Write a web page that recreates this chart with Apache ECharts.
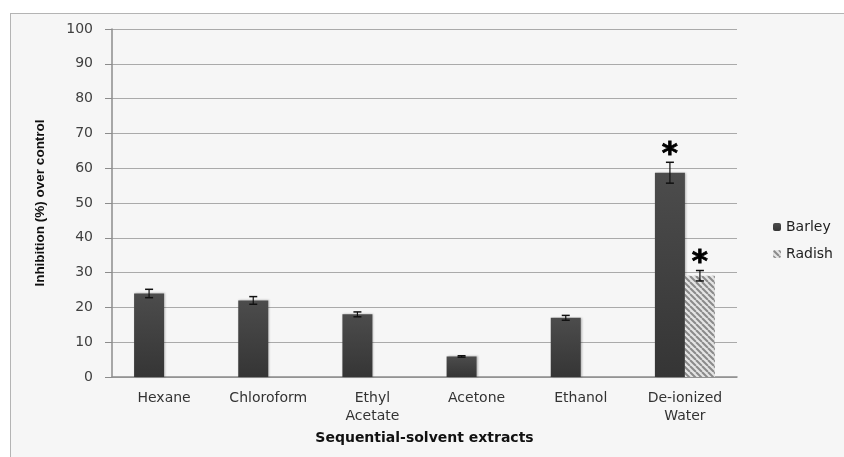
<!DOCTYPE html>
<html>
<head>
<meta charset="utf-8">
<script src="https://cdn.jsdelivr.net/npm/echarts@6/dist/echarts.min.js"></script>
<style>
  html, body { margin: 0; padding: 0; background: #fff; }
  .frame {
    position: absolute; left: 10px; top: 13px; width: 900px; height: 500px;
    background: #f6f6f6; border-left: 1px solid #b4b4b4; border-top: 1px solid #b4b4b4;
  }
  #chart { position: absolute; left: 0; top: 0; width: 844px; height: 457px; }
</style>
</head>
<body>
<div class="frame"></div>
<div id="chart"></div>
<script>
// data
const categories = ['Hexane', 'Chloroform', 'Ethyl\nAcetate', 'Acetone', 'Ethanol', 'De-ionized\nWater'];
const barley = [24.0, 22.0, 18.0, 5.9, 17.0, 58.7];
const barleyErr = [1.2, 1.1, 0.7, 0.2, 0.7, 3.0];
const radish = [null, null, null, null, null, 29.1];
const radishErr = [null, null, null, null, null, 1.5];
const barleySig = ['', '', '', '', '', '*'];
const radishSig = ['', '', '', '', '', '*'];
const yTicks = [0, 10, 20, 30, 40, 50, 60, 70, 80, 90, 100];

// striped fill for radish
function stripePattern() {
  const c = document.createElement('canvas');
  c.width = 6; c.height = 6;
  const ctx = c.getContext('2d');
  ctx.fillStyle = '#e4e4e4';
  ctx.fillRect(0, 0, 6, 6);
  ctx.strokeStyle = '#8a8a8a';
  ctx.lineWidth = 2;
  for (let k = -6; k <= 12; k += 6) {
    ctx.beginPath();
    ctx.moveTo(k, 0);
    ctx.lineTo(k + 6, 6);
    ctx.stroke();
  }
  return c;
}

const barleyColor = {
  type: 'linear', x: 0, y: 0, x2: 0, y2: 1,
  colorStops: [{ offset: 0, color: '#4c4c4c' }, { offset: 1, color: '#353535' }]
};
const radishColor = { image: stripePattern(), repeat: 'repeat' };

function errData(vals, errs, sig) {
  const out = [];
  vals.forEach((v, i) => {
    if (v != null) out.push([i, v, errs[i], sig[i]]);
  });
  return out;
}

function errRender(offset) {
  return function (params, api) {
    const i = api.value(0);
    const v = api.value(1);
    const e = api.value(2);
    const hi = api.coord([i, v + e]);
    const lo = api.coord([i, v - e]);
    const x = hi[0] + offset;
    const cap = 4;
    const children = [
      { type: 'line', shape: { x1: x, y1: hi[1], x2: x, y2: lo[1] }, style: { stroke: '#111', lineWidth: 1.2 } },
      { type: 'line', shape: { x1: x - cap, y1: hi[1], x2: x + cap, y2: hi[1] }, style: { stroke: '#111', lineWidth: 1.5 } },
      { type: 'line', shape: { x1: x - cap, y1: lo[1], x2: x + cap, y2: lo[1] }, style: { stroke: '#111', lineWidth: 1.5 } }
    ];
    const s = api.value(3);
    if (s) {
      children.push({
        type: 'text',
        style: {
          text: s, x: x, y: hi[1] + 8, align: 'center', verticalAlign: 'bottom',
          font: 'bold 31px "DejaVu Sans"', fill: '#000', stroke: '#000', lineWidth: 0.8
        }
      });
    }
    return { type: 'group', children: children };
  };
}

const chart = echarts.init(document.getElementById('chart'));
chart.setOption({
  animation: false,
  textStyle: { fontFamily: '"DejaVu Sans", sans-serif' },
  grid: { left: 112, right: 107, top: 29, bottom: 80 },
  legend: {
    data: ['Barley', 'Radish'],
    orient: 'vertical',
    left: 768, top: 215,
    itemWidth: 8, itemHeight: 8, itemGap: 13,
    textStyle: { fontSize: 14, color: '#222' }
  },
  xAxis: {
    type: 'category',
    data: categories,
    name: 'Sequential-solvent extracts',
    nameLocation: 'middle',
    nameGap: 54,
    nameTextStyle: { fontSize: 14, fontWeight: 'bold', color: '#111' },
    axisLine: { lineStyle: { color: '#8c8c8c', width: 1.5 } },
    axisTick: { length: 6, lineStyle: { color: '#8c8c8c' } },
    axisLabel: { fontSize: 14, color: '#333', margin: 12, lineHeight: 18 }
  },
  yAxis: {
    type: 'value',
    min: 0, max: 100, interval: 10,
    name: 'Inhibition (%) over control',
    nameLocation: 'middle',
    nameGap: 65,
    nameTextStyle: {
      fontSize: 13.5, fontWeight: 'bold', color: '#111',
      fontFamily: '"Liberation Sans Narrow", "Liberation Sans", sans-serif'
    },
    axisLine: { show: true, lineStyle: { color: '#8c8c8c', width: 1.5 } },
    axisTick: { show: true, length: 7, lineStyle: { color: '#8c8c8c' } },
    axisLabel: {
      fontSize: 14, color: '#404040', margin: 19,
      formatter: v => (yTicks.indexOf(v) >= 0 ? String(v) : '')
    },
    splitLine: { lineStyle: { color: '#aaaaaa', width: 1.2 } }
  },
  series: [
    {
      name: 'Barley', type: 'bar', data: barley,
      barWidth: 30, barGap: '0%',
      itemStyle: { color: barleyColor, shadowColor: 'rgba(0,0,0,0.25)', shadowBlur: 2, shadowOffsetX: 1 }
    },
    {
      name: 'Radish', type: 'bar', data: radish,
      barWidth: 30, barGap: '0%',
      itemStyle: { color: radishColor }
    },
    {
      type: 'custom', name: 'barleyErr', z: 5,
      renderItem: errRender(-15),
      encode: { x: 0, y: 1 },
      data: errData(barley, barleyErr, barleySig)
    },
    {
      type: 'custom', name: 'radishErr', z: 5,
      renderItem: errRender(15),
      encode: { x: 0, y: 1 },
      data: errData(radish, radishErr, radishSig)
    }
  ]
});
</script>
</body>
</html>
